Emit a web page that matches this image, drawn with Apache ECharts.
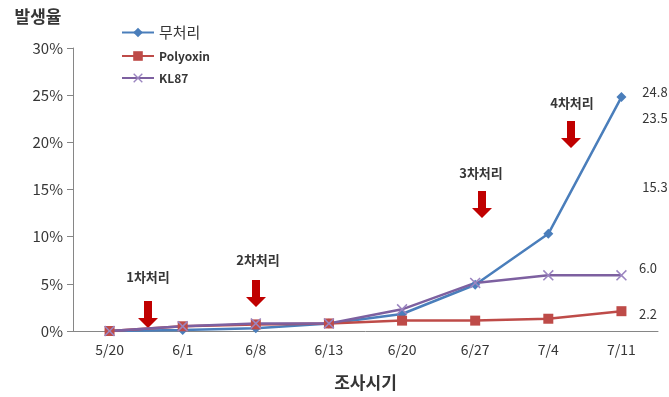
<!DOCTYPE html>
<html>
<head>
<meta charset="utf-8">
<script src="https://cdn.jsdelivr.net/npm/echarts@6/dist/echarts.min.js"></script>
<style>
  html, body { margin: 0; padding: 0; background: #fff; }
  #chart { width: 669px; height: 397px; }
</style>
</head>
<body>
<div id="chart"></div>
<script>
const dates = ['5/20', '6/1', '6/8', '6/13', '6/20', '6/27', '7/4', '7/11']
const untreated = [0, 0.1, 0.3, 0.8, 1.8, 4.9, 10.3, 24.8]
const polyoxin = [0, 0.5, 0.7, 0.8, 1.1, 1.1, 1.3, 2.1]
const kl87 = [0, 0.5, 0.8, 0.8, 2.3, 5.1, 5.9, 5.9]
const sideLabels = ['24.8', '23.5', '15.3', '6.0', '2.2']
const treatLabels = ['1차처리', '2차처리', '3차처리', '4차처리']

const FONT = '"Noto Sans CJK KR", "Noto Sans", sans-serif'
const TXT = '#363636'

const chart = echarts.init(document.getElementById('chart'), null, { renderer: 'canvas' })

// 화살표 모양 (아래 방향)
function arrow(x, y) {
  return {
    type: 'polygon',
    x, y,
    shape: { points: [[-4, 0], [4, 0], [4, 17], [10, 17], [0, 27], [-10, 17], [-4, 17]] },
    style: { fill: '#c00000' }
  }
}
function label(x, y, text, size, weight) {
  return {
    type: 'text', x, y,
    style: { text, fill: TXT, font: `${weight || 'normal'} ${size}px ${FONT}`, textAlign: 'center', textVerticalAlign: 'middle' }
  }
}

const arrowPos = [[148, 301], [256, 280], [482, 191], [571, 121]]
const treatPos = [[148, 277], [258, 260], [481, 173], [572, 103]]
const sidePos = [[655, 92], [655, 118], [655, 187], [648, 268], [648, 314]]

const crossPath = 'path://M1,0L5,4L9,0L10,1L6,5L10,9L9,10L5,6L1,10L0,9L4,5L0,1Z'

chart.setOption({
  animation: false,
  grid: { left: 73, right: 11, top: 48, bottom: 66 },
  legend: {
    orient: 'vertical',
    left: 116,
    top: 20,
    itemGap: 10,
    itemWidth: 32,
    itemHeight: 12,
    data: [
      { name: '무처리', textStyle: { fontSize: 15, lineHeight: 14, fontWeight: 'normal' } },
      { name: 'Polyoxin', textStyle: { fontSize: 12, fontWeight: 'bold' } },
      { name: 'KL87', textStyle: { fontSize: 12, fontWeight: 'bold' } }
    ],
    textStyle: { color: TXT, fontFamily: FONT }
  },
  xAxis: {
    type: 'category',
    data: dates,
    boundaryGap: true,
    name: '조사시기',
    nameLocation: 'middle',
    nameGap: 43,
    nameTextStyle: { color: TXT, fontSize: 17, fontWeight: 'bold', fontFamily: FONT },
    axisLine: { lineStyle: { color: '#868686' } },
    axisTick: { lineStyle: { color: '#868686' }, length: 5 },
    axisLabel: { color: TXT, fontSize: 14, fontFamily: FONT, margin: 12 }
  },
  yAxis: {
    type: 'value',
    min: 0, max: 30, interval: 5,
    axisLine: { show: true, lineStyle: { color: '#868686' } },
    axisTick: { show: true, lineStyle: { color: '#868686' }, length: 6 },
    splitLine: { show: false },
    axisLabel: { color: TXT, fontSize: 15, fontFamily: FONT, formatter: '{value}%', margin: 10 }
  },
  series: [
    {
      name: '무처리', type: 'line', data: untreated,
      symbol: 'diamond', symbolSize: 10,
      lineStyle: { color: '#4a7ebb', width: 2.5 },
      itemStyle: { color: '#4a7ebb' }
    },
    {
      name: 'Polyoxin', type: 'line', data: polyoxin,
      symbol: 'rect', symbolSize: 10,
      lineStyle: { color: '#be4b48', width: 2.5 },
      itemStyle: { color: '#be4b48' }
    },
    {
      name: 'KL87', type: 'line', data: kl87,
      symbol: crossPath, symbolSize: 11,
      lineStyle: { color: '#7d60a0', width: 2.5 },
      itemStyle: { color: '#9b85c0' }
    }
  ],
  graphic: [
    label(38, 17, '발생율', 17, 'bold'),
    ...arrowPos.map(p => arrow(p[0], p[1])),
    ...treatLabels.map((t, i) => label(treatPos[i][0], treatPos[i][1], t, 13, 'bold')),
    ...sideLabels.map((t, i) => label(sidePos[i][0], sidePos[i][1], t, 13, 'normal'))
  ]
})
</script>
</body>
</html>
